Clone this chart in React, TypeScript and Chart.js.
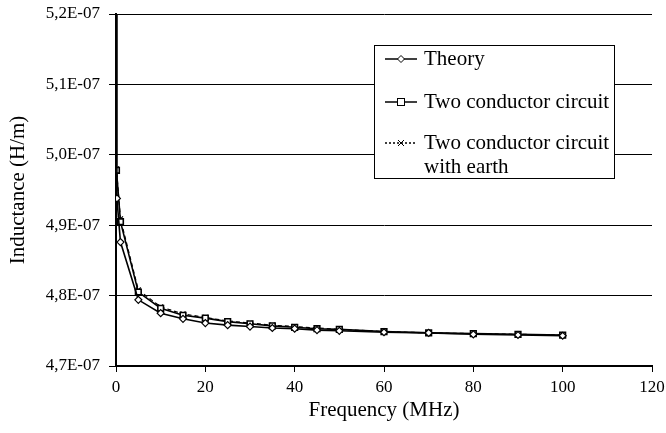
import React, { useEffect, useRef } from "react";
import { Chart, registerables } from "chart.js";

Chart.register(...registerables);

// Frequency (MHz) and inductance (H/m) values
const theoryFreq = [0.01, 0.2, 1, 5, 10, 15, 20, 25, 30, 35, 40, 45, 50, 60, 70, 80, 90, 100];
const theoryValues = [
  5.6e-7, 4.938e-7, 4.876e-7, 4.794e-7, 4.775e-7, 4.767e-7, 4.761e-7, 4.758e-7, 4.756e-7,
  4.754e-7, 4.753e-7, 4.751e-7, 4.75e-7, 4.748e-7, 4.747e-7, 4.745e-7, 4.744e-7, 4.743e-7,
];
const circuitFreq = [0.01, 0.1, 1, 5, 10, 15, 20, 25, 30, 35, 40, 45, 50, 60, 70, 80, 90, 100];
const circuitValues = [
  5.6e-7, 4.978e-7, 4.905e-7, 4.805e-7, 4.782e-7, 4.772e-7, 4.768e-7, 4.763e-7, 4.76e-7,
  4.757e-7, 4.755e-7, 4.753e-7, 4.752e-7, 4.749e-7, 4.747e-7, 4.746e-7, 4.745e-7, 4.744e-7,
];
const earthValues = [
  5.6e-7, 4.98e-7, 4.909e-7, 4.808e-7, 4.784e-7, 4.774e-7, 4.769e-7, 4.764e-7, 4.761e-7,
  4.758e-7, 4.756e-7, 4.754e-7, 4.752e-7, 4.749e-7, 4.747e-7, 4.746e-7, 4.745e-7, 4.744e-7,
];
const legendLabels = ["Theory", "Two conductor circuit", "Two conductor circuit|with earth"];
const xTitle = "Frequency (MHz)";
const yTitle = "Inductance (H/m)";

const FONT = "'Liberation Serif', 'Times New Roman', serif";

const fmtExp = (v: number) => {
  const [m, e] = v.toExponential(1).split("e");
  const n = parseInt(e, 10);
  return m.replace(".", ",") + "E" + (n < 0 ? "-" : "+") + String(Math.abs(n)).padStart(2, "0");
};

const drawDiamond = (ctx: CanvasRenderingContext2D, x: number, y: number, r: number) => {
  ctx.beginPath();
  ctx.moveTo(x, y - r);
  ctx.lineTo(x + r, y);
  ctx.lineTo(x, y + r);
  ctx.lineTo(x - r, y);
  ctx.closePath();
  ctx.fillStyle = "#fff";
  ctx.fill();
  ctx.stroke();
};

const legendPlugin = {
  id: "boxLegend",
  afterDraw(chart: any) {
    const ctx: CanvasRenderingContext2D = chart.ctx;
    const { left, top } = chart.chartArea;
    const bx = left + 258;
    const by = top + 31;
    const bw = 240;
    const bh = 133;
    ctx.save();
    ctx.fillStyle = "#fff";
    ctx.fillRect(bx, by, bw, bh);
    ctx.strokeStyle = "#000";
    ctx.lineWidth = 1;
    ctx.strokeRect(bx + 0.5, by + 0.5, bw, bh);

    const rows = [by + 14, by + 57, by + 98];
    const lx0 = bx + 11;
    const lx1 = bx + 43;
    const mx = (lx0 + lx1) / 2;
    const tx = bx + 50;

    ctx.font = `21px ${FONT}`;
    ctx.textBaseline = "middle";
    ctx.textAlign = "left";

    rows.forEach((ry, i) => {
      ctx.strokeStyle = "#000";
      ctx.lineWidth = 1.5;
      ctx.setLineDash(i === 2 ? [2, 2] : []);
      ctx.beginPath();
      ctx.moveTo(lx0, ry);
      ctx.lineTo(lx1, ry);
      ctx.stroke();
      ctx.setLineDash([]);
      ctx.lineWidth = 1;
      if (i === 0) drawDiamond(ctx, mx, ry, 3.5);
      if (i === 1) {
        ctx.fillStyle = "#fff";
        ctx.fillRect(mx - 3.5, ry - 3.5, 7, 7);
        ctx.strokeRect(mx - 3.5, ry - 3.5, 7, 7);
      }
      if (i === 2) {
        ctx.beginPath();
        ctx.moveTo(mx - 3, ry - 3);
        ctx.lineTo(mx + 3, ry + 3);
        ctx.moveTo(mx + 3, ry - 3);
        ctx.lineTo(mx - 3, ry + 3);
        ctx.stroke();
      }
      ctx.fillStyle = "#000";
      const lines = legendLabels[i].split("|");
      lines.forEach((t, j) => ctx.fillText(t, tx, ry + j * 24));
    });
    ctx.restore();
  },
};

export default function App() {
  const ref = useRef<HTMLCanvasElement | null>(null);

  useEffect(() => {
    if (!ref.current) return;
    const mk = (xs: number[], ys: number[]) => xs.map((x, i) => ({ x, y: ys[i] }));
    const chart = new Chart(ref.current, {
      type: "line",
      data: {
        datasets: [
          {
            label: legendLabels[0],
            data: mk(theoryFreq, theoryValues),
            borderColor: "#000",
            borderWidth: 1.6,
            pointStyle: "rectRot",
            pointRadius: 3.5,
            pointBackgroundColor: "#fff",
            pointBorderColor: "#000",
            pointBorderWidth: 1.2,
            tension: 0,
          },
          {
            label: legendLabels[1],
            data: mk(circuitFreq, circuitValues),
            borderColor: "#000",
            borderWidth: 1.6,
            pointStyle: "rect",
            pointRadius: 4,
            pointBackgroundColor: "#fff",
            pointBorderColor: "#000",
            pointBorderWidth: 1.6,
            tension: 0,
          },
          {
            label: legendLabels[2],
            data: mk(circuitFreq, earthValues),
            borderColor: "#000",
            borderWidth: 1.2,
            borderDash: [4, 3],
            pointStyle: "crossRot",
            pointRadius: 3.5,
            pointBorderColor: "#000",
            pointBorderWidth: 1.2,
            tension: 0,
          },
        ],
      },
      options: {
        responsive: false,
        animation: false,
        layout: { padding: { left: 0, right: 14, top: 14, bottom: 0 } },
        plugins: { legend: { display: false }, tooltip: { enabled: false } },
        scales: {
          x: {
            type: "linear",
            min: 0,
            max: 120,
            ticks: { stepSize: 20, color: "#000", font: { family: FONT, size: 17, lineHeight: 1.88 }, padding: 0, maxRotation: 0 },
            grid: { drawOnChartArea: false, drawTicks: true, tickLength: 6, color: "#000", lineWidth: 1 },
            border: { color: "#000", width: 2 },
            title: { display: true, text: xTitle, color: "#000", font: { family: FONT, size: 21 }, padding: { top: 0, bottom: 10 } },
            afterFit: (s: any) => {
              s.height = 67;
            },
          },
          y: {
            type: "linear",
            min: 4.7e-7,
            max: 5.2e-7,
            ticks: {
              stepSize: 1e-8,
              color: "#000",
              font: { family: FONT, size: 17, lineHeight: 0.5 },
              padding: 9,
              callback: (v: any) => fmtExp(Number(v)),
            },
            grid: { color: "#000", lineWidth: 1, tickLength: 7 },
            border: { color: "#000", width: 2 },
            title: { display: true, text: yTitle, color: "#000", font: { family: FONT, size: 21 }, padding: { top: 6, bottom: 0 } },
            afterFit: (s: any) => {
              s.width = 116;
            },
          },
        },
      },
      plugins: [legendPlugin],
    });
    return () => chart.destroy();
  }, []);

  return (
    <div style={{ position: "fixed", left: 0, top: 0, width: 666, height: 433, background: "#fff" }}>
      <canvas ref={ref} width={666} height={433} />
    </div>
  );
}
